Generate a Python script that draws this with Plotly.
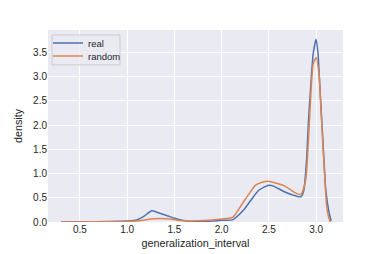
import plotly.graph_objects as go

# real series
real_x = [0.3, 0.5, 0.8, 1.0, 1.1, 1.18, 1.26, 1.33, 1.41, 1.5, 1.57, 1.69, 1.8, 1.9, 2.0,
          2.12, 2.23, 2.31, 2.39, 2.45, 2.5, 2.55, 2.61, 2.67, 2.78, 2.84, 2.87, 2.9, 2.92,
          2.95, 2.97, 3.0, 3.02, 3.04, 3.06, 3.08, 3.10, 3.12, 3.14, 3.16]
real_y = [0.0, 0.003, 0.01, 0.02, 0.04, 0.12, 0.23, 0.19, 0.14, 0.08, 0.04, 0.01, 0.01, 0.02, 0.035,
          0.05, 0.24, 0.45, 0.65, 0.72, 0.76, 0.74, 0.68, 0.62, 0.54, 0.52, 0.65, 1.3, 2.1,
          3.0, 3.48, 3.77, 3.48, 2.8, 2.1, 1.4, 0.72, 0.4, 0.17, 0.02]

# random series
rand_x = [0.3, 0.5, 0.8, 1.0, 1.15, 1.25, 1.35, 1.45, 1.55, 1.65, 1.8, 1.9, 2.0, 2.12, 2.21,
          2.29, 2.36, 2.43, 2.5, 2.58, 2.66, 2.72, 2.78, 2.84, 2.89, 2.93, 2.97, 3.0, 3.03,
          3.05, 3.07, 3.09, 3.11, 3.13, 3.15]
rand_y = [0.0, 0.002, 0.005, 0.01, 0.03, 0.06, 0.07, 0.06, 0.03, 0.02, 0.03, 0.04, 0.06, 0.1, 0.35,
          0.58, 0.76, 0.82, 0.84, 0.8, 0.75, 0.68, 0.6, 0.57, 0.87, 2.1, 3.27, 3.39, 3.07,
          2.4, 1.67, 1.0, 0.37, 0.12, 0.0]

x_ticks = [0.5, 1.0, 1.5, 2.0, 2.5, 3.0]
y_ticks = [0.0, 0.5, 1.0, 1.5, 2.0, 2.5, 3.0, 3.5]

FONT = "Liberation Sans, Arial, sans-serif"

fig = go.Figure()
fig.add_trace(go.Scatter(x=real_x, y=real_y, mode="lines", name="real", legend="legend",
                         line=dict(color="#4C72B0", width=1.5, shape="spline", smoothing=0.6)))
fig.add_trace(go.Scatter(x=rand_x, y=rand_y, mode="lines", name="random", legend="legend2",
                         line=dict(color="#DD8452", width=1.5, shape="spline", smoothing=0.6)))

leg_common = dict(xanchor="left", yanchor="middle", bgcolor="rgba(0,0,0,0)",
                  borderwidth=0, font=dict(size=9.5, color="#262626"), itemwidth=30)

fig.update_layout(
    width=374, height=246,
    margin=dict(l=40, r=39, t=22, b=32, autoexpand=False),
    paper_bgcolor="white",
    plot_bgcolor="#EAEAF2",
    font=dict(family=FONT, size=10, color="#262626"),
    showlegend=True,
    legend=dict(x=0.0, y=0.932, **leg_common),
    legend2=dict(x=0.0, y=0.865, **leg_common),
    shapes=[dict(type="rect", xref="paper", yref="paper", x0=0.0136, x1=0.244, y0=0.818, y1=0.974,
                 fillcolor="rgba(234,234,242,0.8)", line=dict(color="#CCCCCC", width=1),
                 layer="above")],
)
fig.update_xaxes(range=[0.162, 3.285], tickvals=x_ticks, ticktext=[f"{v:.1f}" for v in x_ticks],
                 showgrid=True, gridcolor="white", gridwidth=1, zeroline=False, showline=False,
                 automargin=False, ticks="", ticklen=0,
                 title=dict(text="generalization_interval", standoff=5, font=dict(size=10.8)))
fig.update_yaxes(range=[0, 3.96], tickvals=y_ticks, ticktext=[f"{v:.1f}" for v in y_ticks],
                 showgrid=True, gridcolor="white", gridwidth=1, zeroline=False, showline=False,
                 automargin=False, ticks="",
                 title=dict(text="density", standoff=8, font=dict(size=10.8)))

fig.write_html("out.html")
